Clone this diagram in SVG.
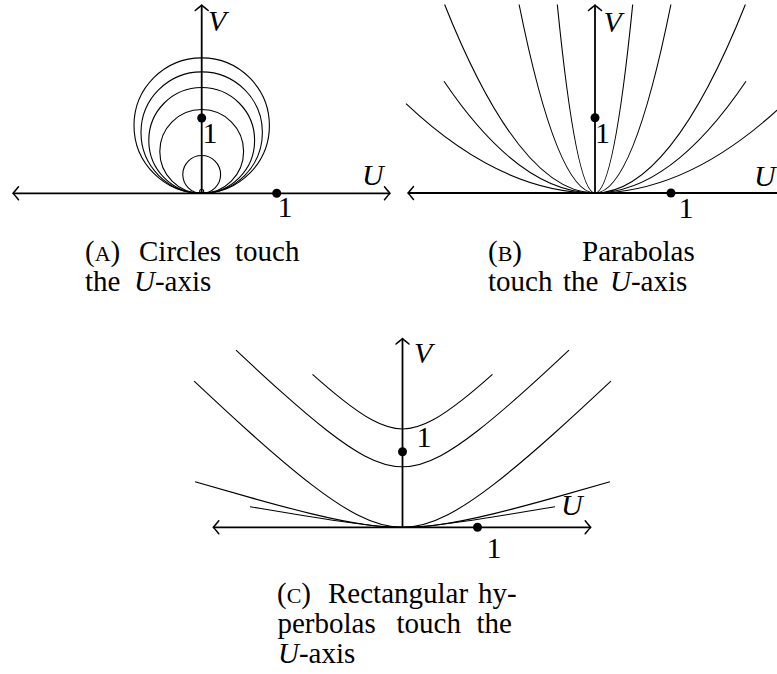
<svg xmlns="http://www.w3.org/2000/svg" width="777" height="674" viewBox="0 0 777 674">
<style>
.ax{stroke:#000;stroke-width:1.8;fill:none}
.cv{stroke:#000;stroke-width:1.1;fill:none}
.dot{fill:#000}
text{font-family:"Liberation Serif","Times New Roman",serif;fill:#000}
.lbl{font-size:30px}
.it{font-style:italic}
.cap{font-size:29px}
.sc{font-size:22px}
</style>
<defs>
<marker id="arr" markerUnits="userSpaceOnUse" viewBox="-10 -10 20 20" markerWidth="20" markerHeight="20" refX="0" refY="0" orient="auto-start-reverse" overflow="visible">
<path d="M-5.5,-6.5 Q-1.5,-1.5 0,0 Q-1.5,1.5 -5.5,6.5" fill="none" stroke="#000" stroke-width="1.5" stroke-linecap="round"/>
</marker>
</defs>
<rect width="777" height="674" fill="#fff"/>

<g id="panel-a">
<g id="a-curves">
<circle class="cv" cx="201.7" cy="125.6" r="67.7"/>
<circle class="cv" cx="201.7" cy="132.6" r="60.7"/>
<circle class="cv" cx="201.7" cy="140.4" r="52.9"/>
<circle class="cv" cx="201.7" cy="151.4" r="41.9"/>
<circle class="cv" cx="201.7" cy="174.4" r="18.9"/>
<circle class="cv" cx="201.7" cy="191.3" r="2"/>
</g>
<g id="a-axes">
<line class="ax" x1="13" y1="193.3" x2="390" y2="193.3" marker-start="url(#arr)" marker-end="url(#arr)"/>
<line class="ax" x1="201.7" y1="193.3" x2="201.7" y2="5" marker-end="url(#arr)"/>
</g>
<circle class="dot" cx="201.7" cy="118" r="4.5"/>
<circle class="dot" cx="276.7" cy="193.3" r="4.5"/>
<text class="lbl it" x="208" y="31">V</text>
<text class="lbl it" x="362" y="185">U</text>
<text class="lbl" x="202.5" y="143">1</text>
<text class="lbl" x="277.5" y="217">1</text>
<text class="cap" x="85" y="261">(<tspan class="sc">A</tspan>)</text>
<text class="cap" x="139" y="261">Circles</text>
<text class="cap" x="235" y="261">touch</text>
<text class="cap" x="85" y="291">the</text>
<text class="cap" x="134" y="291"><tspan class="it">U</tspan>-axis</text>
</g>

<g id="panel-b">
<g id="b-curves">
<path class="cv" d="M406,103.7 Q595,282.3 784,103.7"/>
<path class="cv" d="M444,81.3 Q595,304.7 746,81.3"/>
<path class="cv" d="M444.6,4.5 Q595,381.5 745.4,4.5"/>
<path class="cv" d="M519.1,4.5 Q595,381.5 670.9,4.5"/>
<path class="cv" d="M557.3,4.5 Q595,381.5 632.7,4.5"/>
</g>
<g id="b-axes">
<line class="ax" x1="408" y1="193" x2="785" y2="193" marker-start="url(#arr)" marker-end="url(#arr)"/>
<line class="ax" x1="595" y1="193" x2="595" y2="5" marker-end="url(#arr)"/>
</g>
<circle class="dot" cx="595" cy="117.7" r="4.5"/>
<circle class="dot" cx="671" cy="193" r="4.5"/>
<text class="lbl it" x="603.5" y="31.7">V</text>
<text class="lbl it" x="754" y="186">U</text>
<text class="lbl" x="595" y="143">1</text>
<text class="lbl" x="678.5" y="218">1</text>
<text class="cap" x="488" y="261">(<tspan class="sc">B</tspan>)</text>
<text class="cap" x="582" y="261">Parabolas</text>
<text class="cap" x="488" y="291">touch</text>
<text class="cap" x="563" y="291">the</text>
<text class="cap" x="610" y="291"><tspan class="it">U</tspan>-axis</text>
</g>

<g id="panel-c">
<g id="c-curves">
<path class="cv" d="M312.5,374.34 C322.36,383.09 332.23,391.58 342.1,399.38 C352.17,407.34 362.23,414.64 372.3,420.1 C382.37,425.56 392.43,429 402.5,429 C412.57,429 422.63,425.56 432.7,420.1 C442.77,414.64 452.83,407.34 462.9,399.38 C472.77,391.58 482.64,383.09 492.5,374.34"/>
<path class="cv" d="M236.02,350.14 C251.25,364.45 266.47,378.54 281.7,392.15 C296.8,405.65 311.9,418.71 327,430.49 C339.58,440.3 352.17,449.26 364.75,455.91 C377.33,462.56 389.92,466.71 402.5,466.71 C415.08,466.71 427.67,462.56 440.25,455.91 C452.83,449.26 465.42,440.3 478,430.49 C493.1,418.71 508.2,405.65 523.3,392.15 C538.53,378.54 553.75,364.45 568.98,350.14"/>
<path class="cv" d="M194.12,381.16 C213.25,399.14 232.37,416.86 251.5,433.97 C271.63,451.98 291.77,469.4 311.9,484.87 C327,496.47 342.1,506.98 357.2,514.75 C372.3,522.52 387.4,527.3 402.5,527.3 C417.6,527.3 432.7,522.52 447.8,514.75 C462.9,506.98 478,496.47 493.1,484.87 C513.23,469.4 533.37,451.98 553.5,433.97 C572.63,416.86 591.75,399.14 610.88,381.16"/>
<path class="cv" d="M195.03,481.7 C213.85,487.21 232.67,492.64 251.5,497.9 C271.63,503.53 291.77,508.99 311.9,513.85 C329.52,518.11 347.13,521.94 364.75,524.45 C377.33,526.24 389.92,527.3 402.5,527.3 C415.08,527.3 427.67,526.24 440.25,524.45 C457.87,521.94 475.48,518.11 493.1,513.85 C513.23,508.99 533.37,503.53 553.5,497.9 C572.33,492.64 591.15,487.21 609.97,481.7"/>
<path class="cv" d="M249.99,506.72 C265.59,509.35 281.2,511.96 296.8,514.5 C311.9,516.96 327,519.38 342.1,521.58 C354.68,523.42 367.27,525.14 379.85,526.24 C387.4,526.9 394.95,527.3 402.5,527.3 C410.05,527.3 417.6,526.9 425.15,526.24 C437.73,525.14 450.32,523.42 462.9,521.58 C478,519.38 493.1,516.96 508.2,514.5 C523.8,511.96 539.41,509.35 555.01,506.72"/>
</g>
<g id="c-axes">
<line class="ax" x1="213.3" y1="527.3" x2="590.7" y2="527.3" marker-start="url(#arr)" marker-end="url(#arr)"/>
<line class="ax" x1="402.5" y1="527.3" x2="402.5" y2="338.5" marker-end="url(#arr)"/>
</g>
<circle class="dot" cx="402.5" cy="451.7" r="4.5"/>
<circle class="dot" cx="477.5" cy="527.3" r="4.5"/>
<text class="lbl it" x="414" y="363">V</text>
<text class="lbl it" x="561" y="515">U</text>
<text class="lbl" x="416.5" y="446.7">1</text>
<text class="lbl" x="486.5" y="558">1</text>
<text class="cap" x="277" y="603">(<tspan class="sc">C</tspan>)</text>
<text class="cap" x="328" y="603">Rectangular</text>
<text class="cap" x="478" y="603">hy-</text>
<text class="cap" x="277.5" y="633">perbolas</text>
<text class="cap" x="396.5" y="633">touch</text>
<text class="cap" x="476.5" y="633">the</text>
<text class="cap" x="278" y="663"><tspan class="it">U</tspan>-axis</text>
</g>
</svg>
